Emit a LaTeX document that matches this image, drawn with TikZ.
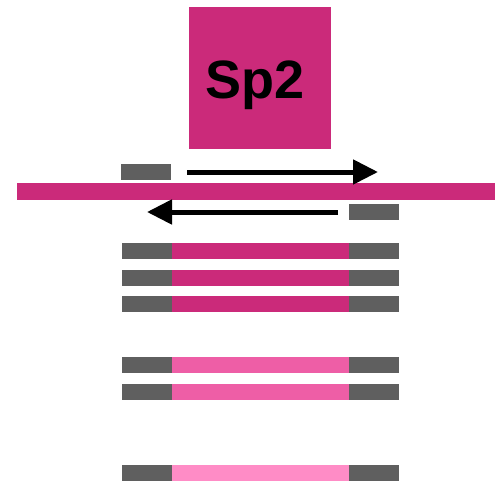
\documentclass[tikz,border=0pt]{standalone}
\usepackage{fontspec}
\setmainfont{Liberation Sans}
\usetikzlibrary{arrows.meta}
\definecolor{mag}{RGB}{203,42,122}
\definecolor{pinkm}{RGB}{238,94,166}
\definecolor{pinkl}{RGB}{255,140,198}
\definecolor{gry}{RGB}{95,95,95}
\tikzset{
  bar/.style={rectangle, inner sep=0pt, outer sep=0pt, anchor=north west, draw=none},
  gbox/.style={bar, fill=gry, minimum width=50pt, minimum height=16pt},
  arr/.style={line width=5pt, -{Triangle[length=25pt,width=24pt]}, shorten >=0pt}
}
\begin{document}
\begin{tikzpicture}[x=1pt,y=-1pt]
\useasboundingbox (0,0) rectangle (495,483);
% Sp2 box
\node[bar, fill=mag, minimum width=142pt, minimum height=142pt] (sp) at (189,7) {};
\node[font=\bfseries\fontsize{54}{54}\selectfont, inner sep=0pt] (sptxt) at (255,85) {Sp2};
% strand
\node[bar, fill=mag, minimum width=478pt, minimum height=17pt] (strand) at (17,183) {};
\node[gbox] (g1) at (121,164) {};
\node[gbox] (g2) at (349,204) {};
\coordinate (a1s) at (187,172);
\coordinate (a1e) at (378,172);
\coordinate (a2s) at (338,212);
\coordinate (a2e) at (147,212);
\draw[arr] (a1s) -- (a1e);
\draw[arr] (a2s) -- (a2e);
% rows
\foreach \y/\c/\n in {243/mag/1,270/mag/2,296/mag/3,357/pinkm/4,384/pinkm/5,465/pinkl/6}{
  \node[gbox] (l\n) at (122,\y) {};
  \node[bar, fill=\c, minimum width=177pt, minimum height=16pt] (m\n) at (172,\y) {};
  \node[gbox] (r\n) at (349,\y) {};
}
\end{tikzpicture}
\end{document}
